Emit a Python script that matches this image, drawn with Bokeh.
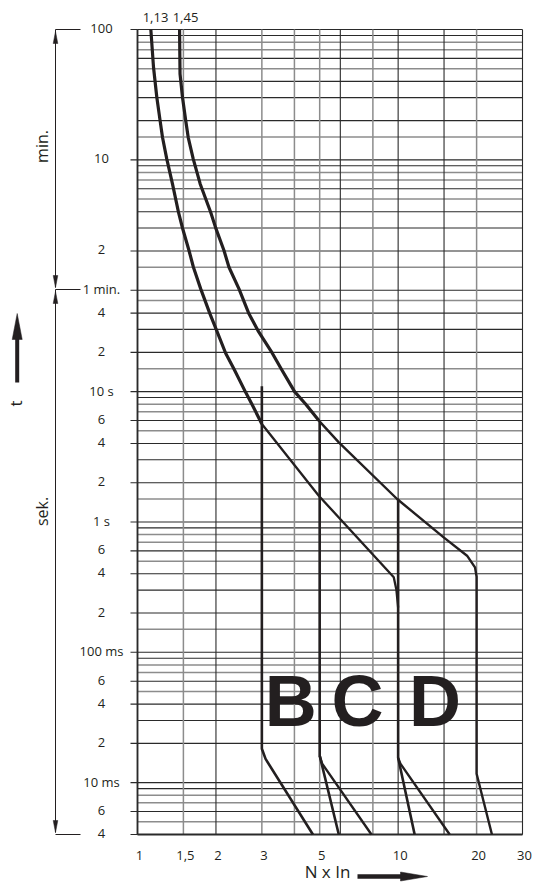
import math
from bokeh.plotting import figure
from bokeh.models import Range1d
from bokeh.core.properties import value
from bokeh.embed import file_html
from bokeh.resources import INLINE

# ---------------- data ----------------
x_ticks = [1, 1.5, 2, 3, 5, 10, 20, 30]
x_tick_labels = ["1", "1,5", "2", "3", "5", "10", "20", "30"]
x_grid_dark = [1, 2, 6, 10, 15, 30]
x_grid_gray = [1.5, 3, 4, 5, 8, 20]

grid_minutes = [1, 1.5, 2, 3, 4, 5, 6, 7, 8, 9, 10, 15, 20, 30, 40, 50, 60, 70, 80, 90, 100]
grid_seconds = [0.004, 0.005, 0.006, 0.007, 0.008, 0.009, 0.01, 0.02, 0.03, 0.04,
                0.05, 0.06, 0.07, 0.08, 0.09, 0.1, 0.15, 0.2, 0.3, 0.4, 0.5, 0.6,
                0.7, 0.8, 0.9, 1, 1.5, 2, 3, 4, 5, 6, 7, 8, 9, 10, 15, 20, 30, 40, 50]
gray_mantissas = [1.5, 5, 7, 8]

y_tick_values = [6000, 600, 120, 60, 40, 20, 10, 6, 4, 2, 1, 0.6, 0.4, 0.2, 0.1,
                 0.06, 0.04, 0.02, 0.01, 0.006, 0.004]
y_tick_labels = ["100", "10", "2", "1 min.", "4", "2", "10 s", "6", "4", "2", "1 s",
                 "6", "4", "2", "100 ms", "6", "4", "2", "10 ms", "6", "4"]

# thermal curve 1,13 x In
th113_x = [1.125, 1.152, 1.186, 1.221, 1.247, 1.295, 1.362, 1.436, 1.488, 1.576,
           1.639, 1.748, 1.897, 2.013, 2.179, 2.345, 2.60, 2.745, 3.0]
th113_t = [6000, 3080, 1813, 1200, 894, 610, 392, 238, 180, 121, 90, 61.4, 39.5,
           29.4, 19.7, 14.9, 9.87, 8.04, 5.65]
th113_low_x = [3.0, 4.96, 9.62, 9.85, 10.0]
th113_low_t = [5.65, 1.59, 0.376, 0.30, 0.22]

# thermal curve 1,45 x In
th145_x = [1.45, 1.456, 1.488, 1.531, 1.565, 1.636, 1.740, 1.909, 1.995, 2.147,
           2.244, 2.451, 2.677, 2.898, 3.29, 3.562, 4.006, 4.414, 4.963]
th145_t = [6000, 2742, 1813, 1201, 894, 610, 392, 237.6, 180.4, 120.8, 89.9, 61.4,
           39.5, 29.4, 19.7, 14.9, 10.0, 8.04, 5.99]
th145_low_x = [4.963, 5.92, 9.91, 14.95, 18.38, 19.72, 20, 20, 22.9]
th145_low_t = [5.99, 4.08, 1.5, 0.761, 0.551, 0.448, 0.38, 0.0117, 0.004]

# magnetic trip lines
b_x = [3, 3, 3.1, 4.71]
b_t = [11, 0.0182, 0.0152, 0.004]
c_x = [5, 5, 5.92]
c_t = [6.0, 0.0161, 0.004]
c2_x = [5, 5.11, 7.9]
c2_t = [0.0161, 0.014, 0.004]
d_x = [10, 10, 11.57]
d_t = [1.5, 0.0155, 0.004]
d2_x = [10, 10.2, 15.77]
d2_t = [0.0155, 0.014, 0.004]

letters = ["B", "C", "D"]
letters_x = [3.87, 6.98, 13.84]
letters_t = [0.0425, 0.0425, 0.0425]

curve_labels = ["1,13", "1,45"]

# ---------------- layout ----------------
X_MIN, X_MAX = 1, 30
Y_MIN, Y_MAX = 0.004, 6000
W, H = 533, 886
CL, CR, CT, CB = 137, 522, 29, 834          # chart area inside the canvas
X_DEC = (CR - CL) / math.log10(X_MAX / X_MIN)
Y_DEC = (CB - CT) / math.log10(Y_MAX / Y_MIN)


def X(px):
    return X_MIN * 10 ** ((px - CL) / X_DEC)


def Y(py):
    return Y_MIN * 10 ** ((CB - py) / Y_DEC)


INK = "#231f20"
DARK = "#2a2a2a"
GRAY = "#8c8c8c"
FONT = value("Open Sans")

p = figure(width=W, height=H, x_axis_type="log", y_axis_type="log",
           x_range=Range1d(X(0), X(W)), y_range=Range1d(Y(H), Y(0)),
           x_axis_location=None, y_axis_location=None,
           output_backend="svg", toolbar_location=None, min_border=0)
p.background_fill_color = "white"
p.border_fill_color = "white"
p.outline_line_color = None
p.xgrid.visible = False
p.ygrid.visible = False


def mant(v):
    return round(v / 10 ** math.floor(math.log10(v) + 1e-9), 3)


y_all = [m * 60 for m in grid_minutes] + grid_seconds
y_mant = [mant(m) for m in grid_minutes] + [mant(s) for s in grid_seconds]
y_gray = [v for v, m in zip(y_all, y_mant) if m in gray_mantissas]
y_dark = [v for v, m in zip(y_all, y_mant) if m not in gray_mantissas]

# ---------------- grid ----------------
for ys, col, w in [(y_gray, GRAY, 1.5), (y_dark, DARK, 1.1)]:
    p.segment(x0=[X_MIN] * len(ys), y0=ys, x1=[X_MAX] * len(ys), y1=ys,
              line_color=col, line_width=w)
for xs, col, w in [(x_grid_gray, GRAY, 1.5), (x_grid_dark, DARK, 1.1)]:
    p.segment(x0=xs, y0=[Y_MIN] * len(xs), x1=xs, y1=[Y_MAX] * len(xs),
              line_color=col, line_width=w)

# axis lines and outer ticks of the labelled rows
p.segment(x0=[X_MIN], y0=[Y_MIN], x1=[X_MIN], y1=[Y_MAX], line_color=DARK, line_width=1.8)
p.segment(x0=[X_MIN], y0=[Y_MIN], x1=[X_MAX], y1=[Y_MIN], line_color=DARK, line_width=1.8)
p.segment(x0=[X(CL - 7)] * len(y_tick_values), y0=y_tick_values,
          x1=[X_MIN] * len(y_tick_values), y1=y_tick_values, line_color=DARK, line_width=1.1)

# tick labels
p.text(x=[X(101)] * len(y_tick_values), y=y_tick_values, text=y_tick_labels,
       text_align="center", text_baseline="middle", y_offset=-1,
       text_font=FONT, text_font_size="13px", text_color=INK)
p.text(x=x_ticks, y=[Y(CB + 21)] * len(x_ticks), text=x_tick_labels, x_offset=2,
       text_align="center", text_baseline="middle",
       text_font=FONT, text_font_size="13px", text_color=INK)
p.text(x=[X(155), X(185)], y=[Y(16.5)] * 2, text=curve_labels,
       text_align="center", text_baseline="middle",
       text_font=FONT, text_font_size="13px", text_color=INK)

# ---------------- curves ----------------
p.line(th113_x, th113_t, line_color=INK, line_width=3.2, line_join="round")
p.line(th113_low_x, th113_low_t, line_color=INK, line_width=2.3, line_join="round")
p.line(th145_x, th145_t, line_color=INK, line_width=3.2, line_join="round")
p.line(th145_low_x, th145_low_t, line_color=INK, line_width=2.4, line_join="round")
for xs, ts in [(b_x, b_t), (c_x, c_t), (d_x, d_t)]:
    p.line(xs, ts, line_color=INK, line_width=2.6, line_join="round")
for xs, ts in [(c2_x, c2_t), (d2_x, d2_t)]:
    p.line(xs, ts, line_color=INK, line_width=2.4, line_join="round")

p.text(x=letters_x, y=letters_t, text=letters,
       text_font=value("Liberation Sans"), text_font_style="bold",
       text_font_size="72px", text_align="center", text_baseline="alphabetic",
       text_color=INK)

# ---------------- side annotations ----------------
def vhead(xp, tip, base, hw):
    return [X(xp - hw), X(xp), X(xp + hw)], [Y(base), Y(tip), Y(base)]


def hhead(yp, tip, base, hw):
    return [X(base), X(tip), X(base)], [Y(yp - hw), Y(yp), Y(yp + hw)]


# range brackets (min. / sek.)
for yp in [CT, 289, CB]:
    p.segment(x0=[X(55)], y0=[Y(yp)], x1=[X(80)], y1=[Y(yp)], line_color=INK, line_width=1)
p.segment(x0=[X(55), X(55)], y0=[Y(CT), Y(289)], x1=[X(55), X(55)], y1=[Y(287), Y(CB - 2)],
          line_color=INK, line_width=1)
heads = [vhead(55, 31, 43, 2.3), vhead(55, 287, 275, 2.3),
         vhead(55, 291, 303, 2.3), vhead(55, CB - 2, CB - 14, 2.3)]
p.patches(xs=[h[0] for h in heads], ys=[h[1] for h in heads],
          fill_color=INK, line_color=INK, line_width=0.5)

p.text(x=[X(41), X(41)], y=[Y(146), Y(511)], text=["min.", "sek."], angle=math.pi / 2,
       text_align="center", text_baseline="middle",
       text_font=FONT, text_font_size="16px", text_color=INK)
p.text(x=[X(15)], y=[Y(403)], text=["t"], angle=math.pi / 2,
       text_align="center", text_baseline="middle",
       text_font=FONT, text_font_size="17px", text_color=INK)

# t arrow
p.segment(x0=[X(16.7)], y0=[Y(382)], x1=[X(16.7)], y1=[Y(336)], line_color=INK, line_width=4)
th = vhead(16.7, 313, 339, 5)
# N x In arrow
nh = hhead(876, 427, 400, 4.5)
p.segment(x0=[X(357)], y0=[Y(876)], x1=[X(402)], y1=[Y(876)], line_color=INK, line_width=4.5)
p.patches(xs=[th[0], nh[0]], ys=[th[1], nh[1]], fill_color=INK, line_color=INK, line_width=0.5)

p.text(x=[X(327)], y=[Y(871)], text=["N x In"], text_align="center", text_baseline="middle",
       text_font=FONT, text_font_size="17px", text_color=INK)

open("out.html", "w").write(file_html(p, INLINE))
